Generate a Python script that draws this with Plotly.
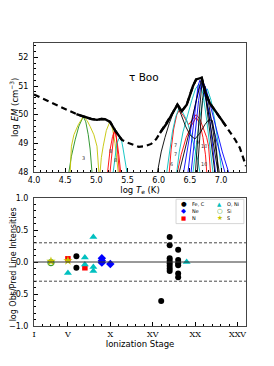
import numpy as np
import plotly.graph_objects as go

# ---------------- top panel: emission measure distribution ----------------
EM_LOGT = [4.0, 4.2, 4.4, 4.55, 4.68, 4.8, 4.92, 5.01, 5.08, 5.14, 5.22, 5.30, 5.36, 5.41,
           5.5, 5.6, 5.68, 5.78, 5.88, 5.96, 6.02, 6.13, 6.22, 6.30, 6.37, 6.45, 6.55, 6.60,
           6.69, 6.74, 6.82, 6.93, 7.0, 7.08, 7.15, 7.22, 7.30, 7.40]
EM_LOGEM = [50.7, 50.5, 50.3, 50.15, 50.02, 49.93, 49.85, 49.82, 49.85, 49.84, 49.75, 49.45, 49.25, 49.12,
            49.02, 48.93, 48.88, 48.9, 48.98, 49.15, 49.36, 49.7, 50.05, 50.35, 50.12, 50.35, 51.0, 51.23,
            51.29, 50.82, 50.4, 50.06, 49.85, 49.6, 49.4, 49.15, 48.85, 48.2]
EM_SOLID_RANGES = [(4.68, 5.41), (6.02, 7.12)]

# emission-measure loci of individual lines, grouped by colour
GREEN_LOCI_T = [[4.56, 4.60, 4.66, 4.72, 4.79, 4.83, 4.87, 4.90, 4.93]]
GREEN_LOCI_EM = [[48.0, 48.55, 49.12, 49.6, 49.93, 49.75, 49.3, 48.8, 48.0]]

YELLOW_LOCI_T = [[4.58, 4.60, 4.64, 4.71, 4.79, 4.85, 4.90, 4.96, 5.01, 5.04],
                 [5.06, 5.08, 5.11, 5.16, 5.22, 5.26, 5.30, 5.33, 5.35]]
YELLOW_LOCI_EM = [[48.0, 48.9, 49.3, 49.65, 49.93, 49.8, 49.59, 49.3, 48.9, 48.0],
                  [48.0, 48.5, 48.9, 49.45, 49.77, 49.5, 49.0, 48.5, 48.0]]

RED_LOCI_T = [[5.18, 5.20, 5.22, 5.26, 5.30, 5.32, 5.34, 5.37],
              [5.22, 5.25, 5.28, 5.30, 5.33, 5.36, 5.39],
              [6.17, 6.20, 6.24, 6.29, 6.33, 6.40, 6.48, 6.55, 6.60, 6.66, 6.72, 6.77, 6.80, 6.83],
              [6.30, 6.36, 6.44, 6.52, 6.60, 6.66, 6.71, 6.75, 6.77]]
RED_LOCI_EM = [[48.0, 48.4, 48.77, 49.24, 49.5, 49.2, 48.77, 48.0],
               [48.0, 48.8, 49.3, 49.45, 49.1, 48.6, 48.0],
               [48.0, 48.8, 49.5, 50.0, 50.15, 49.95, 49.65, 49.85, 50.0, 49.85, 49.53, 49.2, 48.9, 48.0],
               [48.0, 48.6, 49.2, 49.6, 49.9, 49.7, 49.2, 48.6, 48.0]]

CYAN_LOCI_T = [[5.27, 5.30, 5.33, 5.37, 5.40, 5.43, 5.46, 5.49],
               [6.13, 6.17, 6.22, 6.27, 6.32, 6.38, 6.45, 6.52, 6.58, 6.63, 6.66],
               [6.29, 6.33, 6.39, 6.46, 6.53, 6.59, 6.64, 6.68, 6.72, 6.77, 6.82, 6.87],
               [6.55, 6.60, 6.66, 6.72, 6.78, 6.84, 6.90, 6.96, 7.01]]
CYAN_LOCI_EM = [[48.0, 48.6, 49.0, 49.2, 49.15, 48.8, 48.4, 48.0],
                [48.0, 48.7, 49.4, 49.9, 50.2, 50.1, 49.8, 49.3, 48.8, 48.4, 48.0],
                [48.0, 48.7, 49.4, 50.0, 50.5, 50.9, 51.05, 51.0, 50.6, 49.8, 48.9, 48.0],
                [48.0, 48.9, 49.9, 50.6, 50.9, 50.5, 49.8, 48.9, 48.0]]

BLUE_LOCI_T = [[6.47, 6.51, 6.55, 6.59, 6.63, 6.66, 6.70, 6.76, 6.84, 6.92, 7.00, 7.06],
               [6.52, 6.56, 6.60, 6.64, 6.68, 6.71, 6.76, 6.84, 6.93, 7.02, 7.12],
               [6.40, 6.46, 6.53, 6.60, 6.65, 6.70, 6.76, 6.82, 6.87, 6.91]]
BLUE_LOCI_EM = [[48.0, 48.8, 49.6, 50.4, 51.0, 51.2, 51.05, 50.5, 49.8, 49.1, 48.5, 48.0],
                [48.0, 48.8, 49.7, 50.5, 51.05, 51.15, 50.9, 50.2, 49.4, 48.7, 48.0],
                [48.0, 48.8, 49.7, 50.5, 51.0, 51.1, 50.6, 49.8, 48.9, 48.0]]

BLACK_LOCI_T = [[5.98, 6.04, 6.10, 6.17, 6.24, 6.30, 6.36, 6.43, 6.50, 6.58, 6.66, 6.74, 6.80, 6.86, 6.90, 6.93, 6.95],
                [6.59, 6.62, 6.66, 6.70, 6.74, 6.78, 6.83, 6.87, 6.90],
                [6.33, 6.40, 6.48, 6.55, 6.62, 6.69, 6.75, 6.82, 6.89, 6.95],
                [6.62, 6.66, 6.70, 6.74, 6.80, 6.86, 6.92, 6.97]]
BLACK_LOCI_EM = [[48.0, 48.7, 49.2, 49.7, 50.1, 50.3, 50.0, 49.6, 49.3, 49.15, 49.35, 49.65, 49.82, 49.8, 49.3, 48.7, 48.0],
                 [48.0, 49.0, 50.3, 51.25, 50.9, 50.1, 49.2, 48.6, 48.0],
                 [48.0, 48.6, 49.3, 50.0, 50.7, 51.28, 50.7, 49.8, 48.9, 48.0],
                 [48.0, 49.2, 50.5, 51.0, 50.4, 49.6, 48.8, 48.0]]

# tiny line-index labels on the loci
TAG_TEXT = ["3", "8", "8", "7", "7", "6", "9", "10", "10"]
TAG_T = [4.79, 5.22, 5.30, 6.27, 6.27, 6.20, 6.62, 6.72, 6.73]
TAG_EM = [48.5, 48.75, 48.42, 48.95, 48.62, 48.27, 49.05, 48.92, 48.27]

# ---------------- bottom panel: obs/pred line intensity ratios ----------------
FEC_STAGE = [6, 6, 16, 17, 17, 17, 17, 17, 17, 17, 17, 18, 18, 18, 18, 18, 18]
FEC_RATIO = [0.09, -0.09, -0.61, 0.39, 0.26, 0.06, 0.02, -0.02, -0.06, -0.10, -0.14,
             0.19, 0.03, -0.02, -0.05, -0.18, -0.24]
NE_STAGE = [9, 9, 9, 10]
NE_RATIO = [0.06, 0.02, -0.01, -0.03]
N_STAGE = [5, 7]
N_RATIO = [0.05, -0.09]
ONI_STAGE = [5, 7, 7, 8, 8, 8, 19]
ONI_RATIO = [-0.17, 0.07, -0.04, 0.39, -0.08, -0.14, 0.0]
SI_STAGE = [3]
SI_RATIO = [-0.01]
S_STAGE = [3, 5]
S_RATIO = [0.01, 0.02]

ROMAN_VALS = [1, 5, 10, 15, 20, 25]
ROMAN_TEXT = ["I", "V", "X", "XV", "XX", "XXV"]
LEGEND_NAMES = ["Fe, C", "Ne", "N", "O, Ni", "Si", "S"]

C_GREEN = "#1f8f1f"
C_YELLOW = "#c4c400"
C_RED = "#ff0000"
C_CYAN = "#00c0c0"
C_BLUE = "#0000ff"
C_BLACK = "#000000"

fig = go.Figure()

loci_groups = [
    (GREEN_LOCI_T, GREEN_LOCI_EM, C_GREEN),
    (YELLOW_LOCI_T, YELLOW_LOCI_EM, C_YELLOW),
    (RED_LOCI_T, RED_LOCI_EM, C_RED),
    (CYAN_LOCI_T, CYAN_LOCI_EM, C_CYAN),
    (BLUE_LOCI_T, BLUE_LOCI_EM, C_BLUE),
    (BLACK_LOCI_T, BLACK_LOCI_EM, C_BLACK),
]
for ts, ems, col in loci_groups:
    for t, e in zip(ts, ems):
        fig.add_trace(go.Scatter(x=t, y=e, mode="lines", xaxis="x", yaxis="y",
                                 line=dict(color=col, width=0.9), showlegend=False,
                                 hoverinfo="skip"))

# EM distribution: dashed everywhere, solid where constrained
em_t = np.array(EM_LOGT)
em_v = np.array(EM_LOGEM)
fig.add_trace(go.Scatter(x=em_t, y=em_v, mode="lines", xaxis="x", yaxis="y",
                         line=dict(color="black", width=2.2, dash="6px,4px"), showlegend=False))
for lo, hi in EM_SOLID_RANGES:
    m = (em_t >= lo - 1e-9) & (em_t <= hi + 1e-9)
    fig.add_trace(go.Scatter(x=em_t[m], y=em_v[m], mode="lines", xaxis="x", yaxis="y",
                             line=dict(color="black", width=2.4), showlegend=False))

# bottom panel points
fig.add_trace(go.Scatter(x=FEC_STAGE, y=FEC_RATIO, mode="markers", xaxis="x2", yaxis="y2",
                         name=LEGEND_NAMES[0], showlegend=False,
                         marker=dict(symbol="circle", size=6, color=C_BLACK)))
fig.add_trace(go.Scatter(x=NE_STAGE, y=NE_RATIO, mode="markers", xaxis="x2", yaxis="y2",
                         name=LEGEND_NAMES[1], showlegend=False,
                         marker=dict(symbol="diamond", size=6.5, color=C_BLUE)))
fig.add_trace(go.Scatter(x=N_STAGE, y=N_RATIO, mode="markers", xaxis="x2", yaxis="y2",
                         name=LEGEND_NAMES[2], showlegend=False,
                         marker=dict(symbol="square", size=5.5, color=C_RED)))
fig.add_trace(go.Scatter(x=ONI_STAGE, y=ONI_RATIO, mode="markers", xaxis="x2", yaxis="y2",
                         name=LEGEND_NAMES[3], showlegend=False,
                         marker=dict(symbol="triangle-up", size=7, color=C_CYAN)))
fig.add_trace(go.Scatter(x=SI_STAGE, y=SI_RATIO, mode="markers", xaxis="x2", yaxis="y2",
                         name=LEGEND_NAMES[4], showlegend=False,
                         marker=dict(symbol="circle-open", size=6, color="#3a9a2a",
                                     line=dict(width=1.2))))
fig.add_trace(go.Scatter(x=S_STAGE, y=S_RATIO, mode="markers", xaxis="x2", yaxis="y2",
                         name=LEGEND_NAMES[5], showlegend=False,
                         marker=dict(symbol="star", size=7, color=C_YELLOW)))

W, H = 274, 366
# the page body adds an 8 px offset, so margins are reduced accordingly
ML, MR, MT, MB = 26, 36, 35, 48
PW = W - ML - MR
PH = H - MT - MB

axis_common = dict(showline=True, mirror=True, linecolor="#444", linewidth=1,
                   ticks="inside", tickcolor="black", tickwidth=0.8, ticklen=4,
                   showgrid=False, zeroline=False, automargin=False,
                   tickfont=dict(size=8, color="black", family="DejaVu Sans"))

fig.update_layout(
    width=W, height=H,
    margin=dict(l=ML, r=MR, t=MT, b=MB, autoexpand=False),
    paper_bgcolor="white", plot_bgcolor="white",
    font=dict(family="DejaVu Sans", color="black", size=8),
    showlegend=False,
    xaxis=dict(domain=[0, 1], anchor="y", range=[4.0, 7.4], dtick=0.5, tick0=4.0,
               tickformat=".1f",
               minor=dict(dtick=0.1, ticks="inside", ticklen=2, tickcolor="black"),
               title=dict(text="log <i>T</i><sub>e</sub> (K)", font=dict(size=8.5), standoff=1),
               **axis_common),
    yaxis=dict(domain=[154 / PH, 1.0], anchor="x", range=[48, 52.5], dtick=1,
               minor=dict(dtick=0.2, ticks="inside", ticklen=2, tickcolor="black"),
               ticklabelstandoff=3,
               **axis_common),
    xaxis2=dict(domain=[0, 1], anchor="y2", range=[1, 26],
                tickvals=ROMAN_VALS, ticktext=ROMAN_TEXT,
                minor=dict(dtick=1, tick0=0, ticks="inside", ticklen=2, tickcolor="black"),
                title=dict(text="Ionization Stage", font=dict(size=8.5), standoff=2),
                **{**axis_common, "tickfont": dict(size=8, color="black", family="DejaVu Serif")}),
    yaxis2=dict(domain=[0, 128 / PH], anchor="x2", range=[-1, 1], dtick=0.5,
                tickformat=".1f",
                minor=dict(dtick=0.1, ticks="inside", ticklen=2, tickcolor="black"),
                ticklabelstandoff=3,
                **axis_common),
)

# y-axis titles (placed as rotated texts in the left margin)
YTITLE_X = (5.5 - ML) / PW
fig.add_annotation(x=YTITLE_X, y=0.772, xref="paper", yref="paper",
                   text="log <i>EM</i> (cm<sup>−3</sup>)", textangle=-90, showarrow=False,
                   font=dict(size=8.5, color="black"), xanchor="center", yanchor="middle")
fig.add_annotation(x=YTITLE_X, y=0.216, xref="paper", yref="paper",
                   text="log Obs/Pred Line Intensities", textangle=-90, showarrow=False,
                   font=dict(size=8, color="black"), xanchor="center", yanchor="middle")

# reference lines in the ratio panel
fig.add_shape(type="line", xref="x2 domain", yref="y2", x0=0, x1=1, y0=0, y1=0,
              line=dict(color="#333", width=1))
for lvl in (0.3, -0.3):
    fig.add_shape(type="line", xref="x2 domain", yref="y2", x0=0, x1=1, y0=lvl, y1=lvl,
                  line=dict(color="#333", width=0.9, dash="3px,2px"))

# star label
fig.add_annotation(x=5.77, y=51.3, xref="x", yref="y", text="τ Boo", showarrow=False,
                   font=dict(size=10.5, color="black"))

# tiny line tags
for txt, t, e in zip(TAG_TEXT, TAG_T, TAG_EM):
    fig.add_annotation(x=t, y=e, xref="x", yref="y", text=txt, showarrow=False,
                       font=dict(size=5, color="#333"), height=6)

# legend box (two columns)
fig.add_shape(type="rect", xref="x2 domain", yref="y2 domain", x0=0.67, x1=0.99, y0=0.80, y1=0.99,
              line=dict(color="#cccccc", width=0.8), fillcolor="white", layer="above")
legend_glyphs = [("●", C_BLACK, 6.5), ("◆", C_BLUE, 6.5), ("■", C_RED, 5.5),
                 ("▲", C_CYAN, 5.5), ("○", "#3a9a2a", 6.5), ("★", C_YELLOW, 6.5)]
rows_y = [0.95, 0.895, 0.84]
cols = [(0.706, 0.742), (0.876, 0.905)]
for i, (name, (g, col, gs)) in enumerate(zip(LEGEND_NAMES, legend_glyphs)):
    cx, tx = cols[i // 3]
    ry = rows_y[i % 3]
    fig.add_annotation(x=cx, y=ry, xref="x2 domain", yref="y2 domain", text=g, showarrow=False,
                       font=dict(size=gs, color=col), xanchor="center", yanchor="middle",
                       height=6, borderpad=0)
    fig.add_annotation(x=tx, y=ry, xref="x2 domain", yref="y2 domain", text=name, showarrow=False,
                       font=dict(size=5, color="black"), xanchor="left", yanchor="middle",
                       height=6, borderpad=0)

fig.write_html("out.html")
